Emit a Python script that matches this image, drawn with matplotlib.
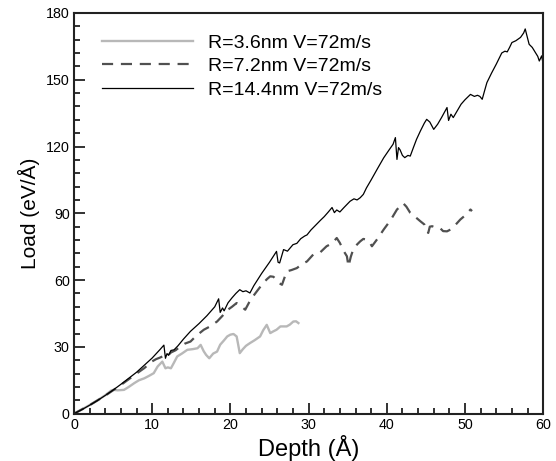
import matplotlib
matplotlib.use("Agg")
import matplotlib.pyplot as plt
from matplotlib.ticker import MultipleLocator

plt.rcParams['font.family'] = ['Liberation Sans', 'DejaVu Sans']

# R=3.6nm series
x_r36 = [0, 1, 2, 3, 4, 4.8, 5.1, 5.6, 6.4, 7.0, 7.7, 8.3, 9.0, 9.6, 10.2, 10.7, 11.3, 11.7,
         12.0, 12.4, 12.8, 13.2, 13.8, 14.5, 15.2, 15.8, 16.2, 16.6, 16.9, 17.3, 17.8, 18.3,
         18.7, 19.2, 19.6, 20.0, 20.4, 20.8, 21.0, 21.2, 21.6, 22.0, 22.5, 23.1, 23.8, 24.2,
         24.65, 25.1, 25.5, 25.9, 26.4, 27.2, 27.6, 28.05, 28.4, 28.7]
y_r36 = [0, 1.9, 3.9, 6.0, 8.3, 10.5, 10.7, 10.5, 10.7, 12.0, 13.7, 15.0, 15.9, 17.0, 18.2,
         21.2, 23.4, 20.4, 20.8, 20.4, 23.0, 25.7, 27.0, 28.7, 29.0, 29.4, 30.9, 28.0, 26.4,
         24.9, 27.0, 27.9, 31.0, 33.0, 34.7, 35.5, 35.8, 34.7, 31.0, 27.2, 29.0, 30.5, 31.7,
         33.0, 34.7, 37.5, 39.9, 36.2, 37.0, 37.7, 39.2, 39.2, 40.0, 41.4, 41.5, 40.7]

# R=7.2nm series
x_r72 = [0, 2, 4, 6, 8, 9, 10, 10.5, 11, 11.5, 11.9, 12.4, 13.0, 13.6, 14.2, 14.9, 15.5, 16.0,
         16.6, 17.3, 18.3, 19.0, 19.6, 20.2, 20.8, 21.3, 21.9, 22.4, 22.9, 23.5, 24.2, 24.7,
         25.1, 25.5, 25.9, 26.3, 26.6, 27.2, 27.8, 28.5, 29.1, 29.8, 30.6, 31.5, 32.3, 33.0,
         33.6, 34.0, 34.5, 34.9, 35.1, 35.4, 35.7, 36.2, 36.6, 37.0, 37.4, 37.8, 38.1, 38.8,
         39.6, 40.5, 41.3, 41.7, 42.1, 42.5, 43.0, 43.6, 44.3, 44.8, 45.1, 45.3, 45.5, 45.8,
         46.3, 46.8, 47.2, 47.7, 48.2, 48.7, 49.4, 50.0, 50.7, 50.9]
y_r72 = [0, 3.8, 8.1, 12.9, 18.0, 20.5, 23.5, 24.5, 25.2, 26.0, 25.7, 27.5, 28.5, 30.2, 31.5,
         32.4, 34.5, 36.0, 37.7, 39.0, 41.4, 44.0, 46.5, 48.0, 49.7, 48.5, 46.7, 50.0, 52.7,
         55.5, 58.7, 60.5, 61.7, 61.5, 60.2, 58.5, 57.9, 63.9, 64.5, 65.4, 67.0, 68.4, 71.5,
         72.5, 75.2, 76.5, 78.9, 76.7, 73.0, 70.7, 66.2, 70.5, 73.7, 76.0, 77.4, 78.5, 78.2,
         77.0, 75.2, 78.5, 82.7, 87.0, 91.7, 93.0, 94.5, 93.0, 90.2, 88.5, 86.4, 85.0, 82.0,
         81.2, 84.0, 84.2, 83.5, 83.4, 82.0, 81.9, 82.8, 84.5, 87.2, 89.0, 91.7, 91.0]

# R=14.4nm series
x_r144 = [0, 1, 2, 3, 4, 5, 6, 7, 8, 9, 10, 11, 11.5, 11.7, 11.9, 12.1, 12.4, 12.8, 13.3, 14.0,
          14.9, 16.0, 17.0, 18.0, 18.5, 18.7, 19.0, 19.2, 19.7, 20.2, 20.7, 21.2, 21.6, 22.0,
          22.5, 23.0, 24.0, 25.0, 25.9, 26.1, 26.3, 26.8, 27.3, 28.0, 28.5, 29.0, 29.5, 29.8,
          30.3, 31.0, 31.5, 32.0, 32.5, 33.0, 33.3, 33.6, 34.0, 34.5, 35.3, 35.8, 36.2, 36.6,
          37.0, 37.4, 38.0, 38.8, 39.6, 40.3, 40.8, 41.1, 41.3, 41.5, 41.7, 42.0, 42.3, 42.7,
          43.0, 43.4, 43.8, 44.3, 44.8, 45.1, 45.5, 46.0, 46.5, 47.0, 47.7, 47.9, 48.2, 48.5,
          49.0, 49.5, 50.0, 50.7, 51.2, 51.6, 51.9, 52.2, 52.5, 52.8, 53.4, 54.0, 54.7, 55.1,
          55.4, 55.7, 56.0, 56.5, 57.1, 57.5, 57.7, 57.9, 58.2, 58.6, 59.0, 59.3, 59.5, 59.8, 60.0]
y_r144 = [0, 1.8, 3.8, 5.9, 8.2, 10.6, 13.2, 15.9, 18.6, 21.8, 25.0, 28.8, 30.8, 24.9, 27.0,
          26.2, 28.4, 28.7, 30.5, 33.5, 37.0, 40.5, 44.0, 48.0, 51.6, 45.5, 47.5, 46.2, 49.8,
          52.0, 54.0, 55.7, 54.8, 55.2, 54.2, 57.5, 63.0, 68.0, 72.9, 68.0, 67.7, 73.7, 73.0,
          75.9, 76.5, 78.6, 79.8, 80.3, 82.5, 85.0, 86.8, 88.5, 90.5, 92.6, 90.3, 91.5, 90.6,
          92.5, 95.4, 96.5, 96.0, 97.0, 98.5, 101.4, 105.0, 110.0, 114.9, 118.5, 121.0, 124.0,
          114.2, 119.5, 118.5, 116.0, 115.0, 116.0, 115.7, 119.5, 123.2, 127.0, 130.5, 132.2,
          131.0, 127.7, 130.0, 133.0, 137.5, 131.7, 134.5, 133.0, 136.0, 139.0, 141.0, 143.4,
          142.5, 143.0, 142.5, 141.2, 145.0, 148.7, 153.0, 157.0, 162.0, 162.8, 162.5, 164.5,
          166.7, 167.5, 169.0, 171.0, 172.8, 170.0, 165.9, 164.5, 162.2, 160.5, 158.4, 160.7, 157.0]

labels = ["R=3.6nm V=72m/s", "R=7.2nm V=72m/s", "R=14.4nm V=72m/s"]

fig = plt.figure(figsize=(5.56, 4.61), dpi=100)
ax = fig.add_axes([0.133, 0.1026, 0.844, 0.8694])

ax.plot(x_r36, y_r36, color='#b8b8b8', lw=1.7, label=labels[0])
ax.plot(x_r72, y_r72, color='#505050', lw=1.6, dashes=(5, 3.5), label=labels[1])
ax.plot(x_r144, y_r144, color='black', lw=0.9, label=labels[2])

ax.set_xlim(0, 60)
ax.set_ylim(0, 180)
ax.xaxis.set_major_locator(MultipleLocator(10))
ax.xaxis.set_minor_locator(MultipleLocator(2))
ax.yaxis.set_major_locator(MultipleLocator(30))
ax.yaxis.set_minor_locator(MultipleLocator(6))
ax.tick_params(which='both', direction='in', top=False, right=False, labelsize=10.3, width=1.3, color='#222222')
ax.tick_params(which='major', length=8, pad=3)
ax.tick_params(which='minor', length=4)
for sp in ax.spines.values():
    sp.set_linewidth(1.5)
    sp.set_color('#222222')

ax.set_xlabel("Depth (Å)", fontsize=17, labelpad=2)
ax.set_ylabel("Load (eV/Å)", fontsize=15, labelpad=4)

ax.legend(loc='upper left', bbox_to_anchor=(0.06, 0.947), frameon=False, fontsize=14,
          handlelength=4.7, handletextpad=0.75, labelspacing=0.3, borderpad=0, borderaxespad=0)

fig.savefig("out.png", dpi=100)
